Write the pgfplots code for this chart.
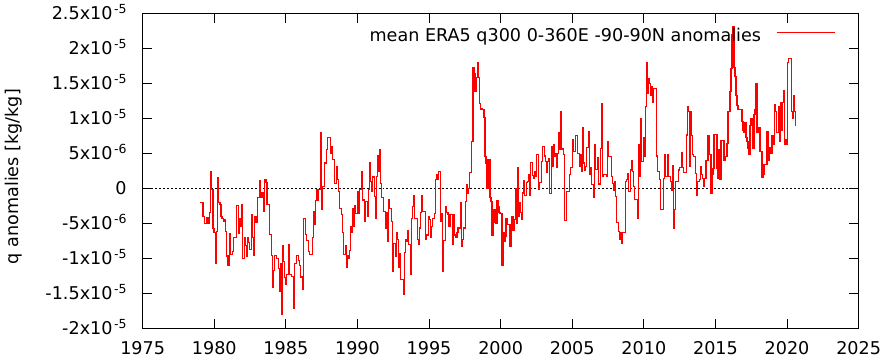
\documentclass[border=0pt]{standalone}
\usepackage{pgfplots}
\pgfplotsset{compat=1.18}
\usepackage{fontspec}
\setmainfont{DejaVu Sans}
\newcommand{\fs}{\fontsize{17.6bp}{21bp}\selectfont}
\newcommand{\sx}[2]{#1x10\hspace{1.5bp}\raisebox{6bp}{\fontsize{12.5bp}{12.5bp}\selectfont #2}}
\pgfplotstableread{
x y
1978.977 -2.0
1979.210 -4.0
1979.303 -5.0
1979.489 -4.2
1979.583 -5.0
1979.653 -3.5
1979.722 2.4
1979.816 -0.2
1979.909 -5.8
1979.979 -6.3
1980.072 -10.8
1980.142 -6.2
1980.212 1.5
1980.305 -2.0
1980.398 -2.3
1980.468 -4.0
1980.538 -4.3
1980.632 -4.7
1980.701 -4.5
1980.795 -6.2
1980.865 -9.7
1980.958 -11.0
1981.051 -6.5
1981.121 -9.5
1981.214 -9.5
1981.284 -9.0
1981.331 -7.0
1981.564 -2.5
1981.704 -6.5
1981.774 -4.4
1981.820 -5.5
1981.890 -2.4
1981.984 -10.0
1982.123 -7.0
1982.193 -8.2
1982.240 -9.8
1982.310 -7.0
1982.380 -7.8
1982.473 -8.8
1982.590 -3.8
1982.660 -7.0
1982.729 -9.6
1982.799 -4.1
1982.916 -4.9
1983.009 -1.4
1983.149 1.1
1983.219 -1.4
1983.336 -0.7
1983.452 -3.3
1983.522 1.2
1983.615 0.8
1983.685 -2.4
1983.872 -6.6
1983.965 -9.6
1984.035 -14.2
1984.105 -11.8
1984.198 -9.6
1984.361 -10.0
1984.454 -11.5
1984.524 -14.8
1984.594 -10.8
1984.688 -18.0
1984.757 -8.2
1984.827 -10.5
1984.897 -12.8
1984.967 -13.7
1985.037 -12.4
1985.177 -8.0
1985.247 -12.4
1985.410 -12.6
1985.550 -17.2
1985.620 -10.8
1985.713 -9.6
1985.853 -10.3
1985.970 -11.0
1986.039 -12.7
1986.156 -14.5
1986.249 -4.4
1986.366 -6.6
1986.436 -7.5
1986.552 -9.0
1986.646 -9.5
1986.855 -7.0
1986.925 -3.3
1986.972 -5.2
1987.042 -1.8
1987.135 -0.2
1987.205 -1.8
1987.298 -0.2
1987.415 8.0
1987.508 -3.1
1987.578 0.3
1987.671 3.6
1987.741 3.6
1987.811 5.5
1987.927 7.3
1988.091 5.0
1988.161 5.9
1988.277 4.1
1988.394 0.7
1988.510 3.1
1988.603 1.2
1988.673 -0.5
1988.767 -2.9
1988.860 -3.8
1988.976 -6.3
1989.046 -9.5
1989.140 -8.2
1989.210 -11.4
1989.279 -9.7
1989.373 -10.0
1989.443 -8.9
1989.513 -5.5
1989.606 -6.3
1989.676 -2.9
1989.746 -5.5
1989.816 -2.5
1989.886 -3.6
1989.979 -0.5
1990.072 -3.6
1990.142 -0.2
1990.305 2.4
1990.375 -1.7
1990.468 -4.8
1990.538 -1.9
1990.701 -4.0
1990.771 -0.2
1990.841 3.7
1990.934 0.9
1991.004 -0.5
1991.074 1.6
1991.168 -1.2
1991.238 -4.3
1991.307 1.7
1991.401 4.6
1991.471 2.4
1991.541 5.5
1991.634 0.7
1991.704 -1.4
1991.820 -3.4
1991.937 -5.7
1992.007 -3.5
1992.077 -7.6
1992.170 -1.7
1992.240 -2.9
1992.403 -4.8
1992.473 -11.9
1992.543 -7.9
1992.636 -9.7
1992.706 -6.4
1992.776 -7.4
1992.846 -11.3
1992.916 -9.3
1993.009 -13.1
1993.196 -15.2
1993.265 -9.2
1993.335 -7.3
1993.405 -7.6
1993.475 -6.0
1993.569 -8.0
1993.708 -12.4
1993.778 -4.4
1993.848 -2.6
1993.918 -1.1
1993.988 -4.3
1994.175 -7.4
1994.244 -8.1
1994.314 -5.7
1994.408 -3.5
1994.501 -1.0
1994.571 -3.3
1994.734 -7.4
1994.804 -6.7
1994.967 -4.1
1995.037 -4.5
1995.107 -7.1
1995.177 -5.5
1995.247 -4.4
1995.410 -3.6
1995.480 1.3
1995.550 1.9
1995.620 1.2
1995.690 2.4
1995.830 -4.8
1995.900 -3.6
1995.969 -11.9
1996.039 -7.5
1996.179 -2.7
1996.249 -3.5
1996.319 -3.8
1996.389 -5.5
1996.459 -3.8
1996.622 -8.0
1996.692 -3.8
1996.785 -6.7
1996.833 -7.0
1996.949 -6.4
1997.019 -5.7
1997.182 -2.0
1997.252 -8.3
1997.322 -7.3
1997.415 -5.7
1997.532 -1.9
1997.602 0.5
1997.672 -0.7
1997.765 0.0
1997.835 2.2
1997.975 6.7
1998.068 17.3
1998.138 16.4
1998.208 13.8
1998.278 15.8
1998.371 17.9
1998.441 15.8
1998.511 12.1
1998.581 11.2
1998.651 11.4
1998.744 11.3
1998.837 10.1
1998.907 4.5
1998.977 3.6
1999.047 0.0
1999.117 4.1
1999.257 -1.4
1999.327 -1.9
1999.397 -6.7
1999.467 -3.0
1999.537 -4.9
1999.607 -3.0
1999.676 -5.1
1999.746 -1.8
1999.816 -2.6
1999.886 -3.5
1999.956 -3.6
2000.096 -11.0
2000.166 -6.3
2000.236 -7.6
2000.306 -6.9
2000.376 -4.4
2000.446 -5.2
2000.586 -7.1
2000.655 -8.3
2000.725 -5.2
2000.795 -4.0
2000.865 -6.0
2000.935 -4.5
2001.005 0.0
2001.075 -5.0
2001.145 2.9
2001.215 -4.0
2001.285 -2.1
2001.355 -3.5
2001.425 -4.5
2001.495 -0.7
2001.565 1.1
2001.635 -1.0
2001.774 0.8
2001.844 0.9
2001.914 1.9
2001.984 -1.0
2002.054 3.7
2002.194 1.8
2002.264 1.4
2002.334 2.4
2002.404 1.7
2002.474 4.8
2002.614 -0.2
2002.683 0.8
2002.823 3.8
2002.893 5.9
2003.033 4.6
2003.103 3.8
2003.173 2.2
2003.243 3.8
2003.313 4.3
2003.383 -0.8
2003.523 5.9
2003.593 3.1
2003.662 6.2
2003.732 4.6
2003.802 4.9
2003.872 3.0
2003.942 5.0
2004.012 7.9
2004.082 5.6
2004.152 10.9
2004.222 5.6
2004.362 4.8
2004.432 -4.6
2004.572 -0.5
2004.781 2.0
2004.851 2.9
2004.991 7.0
2005.061 5.2
2005.201 7.5
2005.341 5.0
2005.481 3.1
2005.550 4.8
2005.620 2.4
2005.690 8.7
2005.760 3.6
2005.830 2.6
2005.900 3.1
2005.970 5.8
2006.110 8.1
2006.180 2.0
2006.250 2.9
2006.320 0.5
2006.459 -1.4
2006.529 6.2
2006.599 2.7
2006.739 4.4
2006.809 0.6
2006.949 5.7
2007.019 12.1
2007.089 1.7
2007.159 1.9
2007.369 1.7
2007.438 6.7
2007.508 4.5
2007.718 1.7
2007.788 0.7
2007.858 -0.4
2007.928 1.0
2007.998 -1.2
2008.068 -4.9
2008.208 -6.2
2008.278 -7.3
2008.348 -6.3
2008.417 -7.9
2008.487 -6.3
2008.697 1.0
2008.767 1.2
2008.837 2.1
2008.907 -0.5
2009.047 2.6
2009.117 4.0
2009.187 2.4
2009.257 0.2
2009.327 -1.6
2009.536 -4.4
2009.606 6.2
2009.676 1.7
2009.746 10.0
2009.816 3.8
2009.956 7.3
2010.026 4.5
2010.096 11.7
2010.166 17.9
2010.236 13.5
2010.306 15.6
2010.376 15.0
2010.445 13.3
2010.515 14.5
2010.585 12.2
2010.655 14.3
2010.865 4.6
2010.935 2.4
2011.075 1.2
2011.145 -3.1
2011.355 1.4
2011.424 4.8
2011.494 1.7
2011.634 4.8
2011.704 1.7
2011.844 1.0
2011.914 -0.3
2011.984 3.3
2012.054 -5.7
2012.124 -3.1
2012.194 1.0
2012.403 2.6
2012.473 2.9
2012.613 5.1
2012.683 2.9
2012.753 2.2
2012.963 7.6
2013.033 11.7
2013.103 10.9
2013.173 3.1
2013.243 10.9
2013.313 7.5
2013.383 4.8
2013.452 4.5
2013.592 2.1
2013.662 -1.1
2013.732 1.0
2013.872 1.2
2013.942 3.1
2014.012 1.9
2014.082 1.4
2014.152 0.3
2014.222 1.4
2014.338 3.9
2014.478 7.5
2014.548 4.8
2014.688 -0.7
2014.758 1.9
2014.827 2.8
2014.897 7.7
2015.107 2.8
2015.177 1.4
2015.247 5.5
2015.317 1.2
2015.387 6.8
2015.597 4.0
2015.667 4.5
2015.806 6.4
2015.876 11.0
2016.016 13.8
2016.086 17.1
2016.156 21.9
2016.226 23.1
2016.296 17.2
2016.366 15.9
2016.436 13.3
2016.506 11.8
2016.576 11.3
2016.855 9.5
2016.925 8.3
2016.995 7.9
2017.065 9.4
2017.135 7.2
2017.205 6.7
2017.275 5.7
2017.345 4.8
2017.415 9.0
2017.485 10.0
2017.555 9.0
2017.625 5.7
2017.695 10.5
2017.765 11.3
2017.834 15.0
2017.904 7.9
2017.974 8.7
2018.114 5.3
2018.254 1.5
2018.324 2.0
2018.394 3.4
2018.604 8.1
2018.674 4.0
2018.744 5.8
2018.883 5.0
2018.953 7.5
2019.023 6.3
2019.093 11.9
2019.163 11.0
2019.233 7.9
2019.303 8.0
2019.373 11.7
2019.443 6.7
2019.513 12.3
2019.583 8.2
2019.653 12.3
2019.723 13.9
2019.793 6.2
2019.862 6.9
2019.932 6.3
2020.002 17.9
2020.072 18.5
2020.282 11.0
2020.352 10.0
2020.422 13.2
2020.492 11.0
2020.562 9.0
2020.632 9.0
}\qdata
\begin{document}
\begin{tikzpicture}
\begin{axis}[
  scale only axis,
  width=716.5bp, height=315bp,
  xmin=1975, xmax=2025, ymin=-20, ymax=25,
  axis line style={line width=1bp},
  every tick/.style={black, line width=1bp},
  tick align=inside,
  major tick length=9.3bp,
  xtick={1975,1980,1985,1990,1995,2000,2005,2010,2015,2020,2025},
  xticklabels={1975,1980,1985,1990,1995,2000,2005,2010,2015,2020,2025},
  ytick={-20,-15,-10,-5,0,5,10,15,20,25},
  yticklabels={{\sx{-2}{-5}},{\sx{-1.5}{-5}},{\sx{-1}{-5}},{\sx{-5}{-6}},{0},{\sx{5}{-6}},{\sx{1}{-5}},{\sx{1.5}{-5}},{\sx{2}{-5}},{\sx{2.5}{-5}}},
  xticklabel style={font=\fs, inner sep=0pt, anchor=north, yshift=-13.5bp},
  yticklabel style={font=\fs, inner sep=0pt, anchor=base east, xshift=-16bp, yshift=-6.4bp},
  ylabel={q anomalies [kg/kg]},
  ylabel style={font=\fs, at={([xshift=-129.5bp]axis description cs:0,0.481)}, anchor=center},
  legend plot pos=right,
  legend image code/.code={\draw[#1, red, line width=1.1bp] (0bp,3bp) -- (58bp,3bp);},
  legend style={draw=none, fill=none, font=\fs, inner sep=0pt, column sep=15bp,
    at={(rel axis cs:0.9675,0.93)}, anchor=east, nodes={inner sep=0pt}},
]
\addplot[black, line width=0.9bp, dash pattern=on 2bp off 2bp, forget plot] coordinates {(1975,0) (2025,0)};
\addplot[red, line width=1.1bp, const plot] table[x=x, y=y] {\qdata};
\addlegendentry{mean ERA5 q300 0-360E -90-90N anomalies}
\end{axis}
\path (-142.8bp,-29.7bp) rectangle (738.2bp,328.3bp);
\end{tikzpicture}
\end{document}
